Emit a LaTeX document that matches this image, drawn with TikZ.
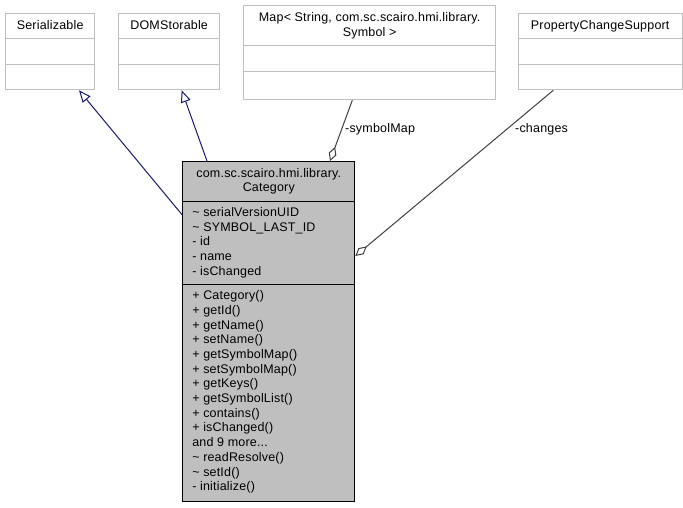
\documentclass[tikz,border=0pt]{standalone}
\usepackage{fontspec}
\setmainfont[LetterSpace=1.5]{Liberation Sans}
\usetikzlibrary{arrows.meta,calc}
\definecolor{catfill}{HTML}{BFBFBF}
\definecolor{boxline}{HTML}{BFBFBF}
\definecolor{inhline}{HTML}{191970}
\definecolor{aggline}{HTML}{404040}
\tikzset{
  txt/.style={inner sep=0pt, font=\fontsize{12.5}{14.7}\selectfont, text=black},
  extbox/.style={draw=boxline, line width=1pt, fill=white, inner sep=0pt, anchor=north west},
  mainbox/.style={draw=black, line width=1pt, fill=catfill, inner sep=0pt, anchor=north west},
  sep/.style={line width=1pt},
  inherit/.style={draw=inhline, line width=1pt, -{Triangle[length=12pt,width=10pt,fill=white]}},
  aggreg/.style={draw=aggline, line width=1pt, -{Diamond[length=15pt,width=8pt,fill=white]}},
}
\newcommand\moreops{and 9 more...}
\begin{document}
\begin{tikzpicture}[x=1pt,y=1pt]
\useasboundingbox (0,0) rectangle (683,-507);
\fill[white] (0,0) rectangle (683,-507);

% Interfaces / used classes along the top
\node[extbox, minimum width=89.3, minimum height=76] (ser) at (5,-13.3) {};
\node[extbox, minimum width=100.7, minimum height=76] (dom) at (118.3,-13.3) {};
\node[extbox, minimum width=251.7, minimum height=94.3] (map) at (243.3,-5) {};
\node[extbox, minimum width=164, minimum height=76] (pcs) at (517.7,-13.3) {};

\foreach \b in {ser,dom,pcs}{
  \draw[sep, boxline] ([yshift=-25]\b.north west) -- ([yshift=-25]\b.north east);
  \draw[sep, boxline] ([yshift=-50.7]\b.north west) -- ([yshift=-50.7]\b.north east);
}
\draw[sep, boxline] ([yshift=-40.7]map.north west) -- ([yshift=-40.7]map.north east);
\draw[sep, boxline] ([yshift=-66]map.north west) -- ([yshift=-66]map.north east);

\node[txt, anchor=base] (sert) at ([yshift=-16]ser.north) {Serializable};
\node[txt, anchor=base] (domt) at ([yshift=-16]dom.north) {DOMStorable};
\node[txt, anchor=base] (pcst) at ([yshift=-16]pcs.north) {PropertyChangeSupport};
\node[txt, anchor=base] (mapt1) at ([yshift=-16.7]map.north) {Map< String, com.sc.scairo.hmi.library.};
\node[txt, anchor=base] (mapt2) at ([yshift=-31]map.north) {Symbol >};

% The Category class
\node[mainbox, minimum width=172, minimum height=339.7] (cat) at (182.3,-161) {};
\draw[sep] ([yshift=-40]cat.north west) -- ([yshift=-40]cat.north east);
\draw[sep] ([yshift=-123.3]cat.north west) -- ([yshift=-123.3]cat.north east);
\node[txt, anchor=base] (catt1) at ([yshift=-16.5]cat.north) {com.sc.scairo.hmi.library.};
\node[txt, anchor=base] (catt2) at ([yshift=-30]cat.north) {Category};

\foreach \t [count=\i from 0] in {\textasciitilde{} serialVersionUID,
    \textasciitilde{} SYMBOL\_LAST\_ID, - id, - name, - isChanged}{
  \node[txt, anchor=base west] (attr\i) at ($(cat.north west)+(9.8,-55.3-14.7*\i)$) {\t};
}
\foreach \t [count=\i from 0] in {+ Category(), + getId(), + getName(), + setName(),
    + getSymbolMap(), + setSymbolMap(), + getKeys(), + getSymbolList(), + contains(),
    + isChanged(), \moreops, \textasciitilde{} readResolve(),
    \textasciitilde{} setId(), - initialize()}{
  \node[txt, anchor=base west] (meth\i) at ($(cat.north west)+(9.8,-138.6-14.7*\i)$) {\t};
}

% Generalisations
\draw[inherit] ([yshift=-54]cat.north west) -- ([xshift=74]ser.south west);
\draw[inherit] ([xshift=24.7]cat.north west) -- ([xshift=63.4]dom.south west);

% Aggregations
\draw[aggreg] ([xshift=109]map.south west) -- ([xshift=147.7]cat.north west);
\draw[aggreg] ([xshift=35.6]pcs.south west) -- ([yshift=-95]cat.north east);
\node[txt, anchor=base west] (lsym) at (345,-132) {-symbolMap};
\node[txt, anchor=base west] (lchg) at (515,-132) {-changes};
\end{tikzpicture}
\end{document}
